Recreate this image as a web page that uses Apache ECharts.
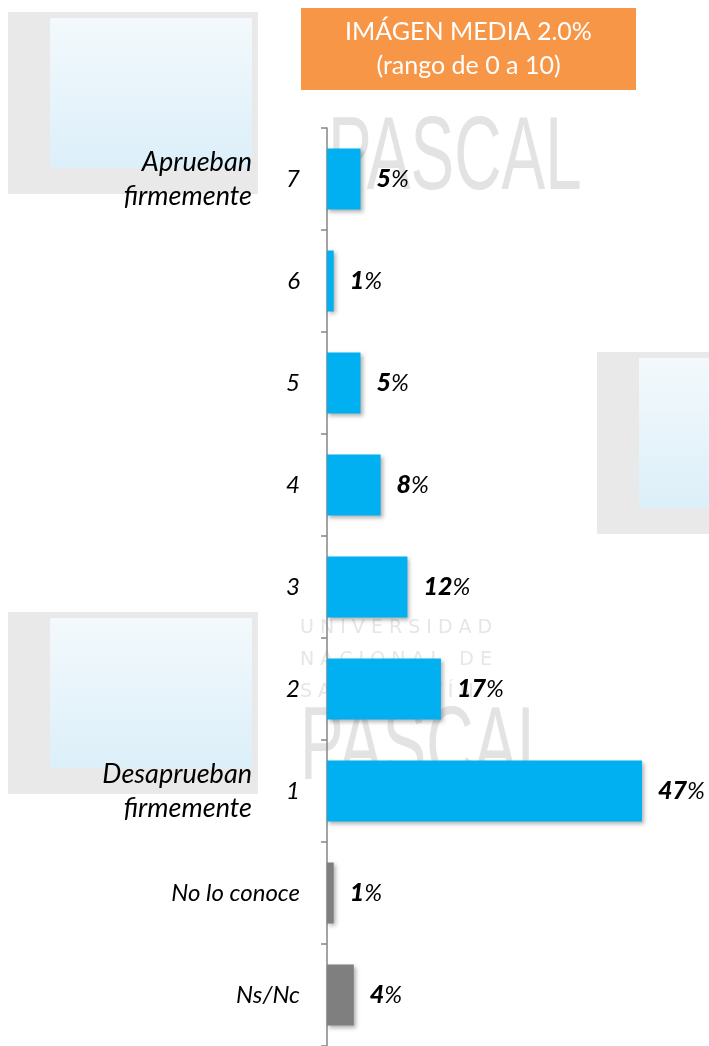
<!DOCTYPE html>
<html>
<head>
<meta charset="utf-8">
<script src="https://cdn.jsdelivr.net/npm/echarts@6/dist/echarts.min.js"></script>
<style>
  html, body { margin: 0; padding: 0; background: #ffffff; }
  #main { width: 709px; height: 1046px; }
</style>
</head>
<body>
<div id="main"></div>
<script>
// categorias de arriba hacia abajo
var categorias = ["7", "6", "5", "4", "3", "2", "1", "No lo conoce", "Ns/Nc"];
var descriptores = ["Aprueban\nfirmemente", "", "", "", "", "", "Desaprueban\nfirmemente", "", ""];
var valores = [5, 1, 5, 8, 12, 17, 47, 1, 4];
var colores = ["#00B0F0", "#00B0F0", "#00B0F0", "#00B0F0", "#00B0F0", "#00B0F0", "#00B0F0", "#7F7F7F", "#7F7F7F"];
var titulo = "IMÁGEN MEDIA 2.0%\n(rango de 0 a 10)";

var fuente = "Lato, 'Open Sans', sans-serif";

// marca de agua (logo de fondo)
function libro(x, y) {
  return {
    type: "group",
    x: x,
    y: y,
    z: -10,
    silent: true,
    children: [
      { type: "rect", shape: { x: 0, y: 0, width: 250, height: 182 }, style: { fill: "#E9E9E9" } },
      {
        type: "rect",
        shape: { x: 42, y: 6, width: 202, height: 150 },
        style: {
          fill: {
            type: "linear", x: 0, y: 0, x2: 0, y2: 1,
            colorStops: [
              { offset: 0, color: "#F3F9FC" },
              { offset: 1, color: "#DCEFF9" },
            ],
          },
        },
      },
    ],
  };
}

function marca(texto, x, y) {
  return {
    type: "text",
    x: x,
    y: y,
    z: -9,
    scaleX: 0.63,
    silent: true,
    style: { text: texto, fill: "#E3E3E3", font: "104px 'Liberation Sans', sans-serif" },
  };
}

var chart = echarts.init(document.getElementById("main"));

chart.setOption({
  backgroundColor: "#ffffff",
  animation: false,
  grid: {
    left: 327,
    top: 128,
    width: 315,
    height: 922,
  },
  xAxis: {
    type: "value",
    min: 0,
    max: 47,
    show: false,
  },
  yAxis: [
    {
      type: "category",
      data: categorias,
      inverse: true,
      axisLine: {
        show: true,
        lineStyle: { color: "#868686", width: 1.5 },
      },
      axisTick: {
        show: true,
        length: 6,
        lineStyle: { color: "#868686", width: 1.5 },
      },
      splitLine: { show: false },
      axisLabel: {
        margin: 27,
        color: "#000000",
        fontFamily: fuente,
        fontStyle: "italic",
        fontSize: 24,
      },
    },
    {
      type: "category",
      data: descriptores,
      inverse: true,
      position: "left",
      axisLine: { show: false },
      axisTick: { show: false },
      splitLine: { show: false },
      axisLabel: {
        margin: 75,
        color: "#000000",
        fontFamily: fuente,
        fontStyle: "italic",
        fontSize: 27,
        lineHeight: 34,
        align: "right",
      },
    },
  ],
  series: [
    {
      type: "bar",
      yAxisIndex: 0,
      barWidth: 61,
      data: valores.map(function (v, i) {
        return { value: v, itemStyle: { color: colores[i] } };
      }),
      itemStyle: {
        shadowBlur: 4,
        shadowColor: "rgba(0,0,0,0.3)",
        shadowOffsetX: 2,
        shadowOffsetY: 2,
      },
      label: {
        show: true,
        position: "right",
        distance: 16,
        formatter: function (p) {
          return "{n|" + p.value + "}{p|%}";
        },
        rich: {
          n: {
            fontFamily: fuente,
            fontStyle: "italic",
            fontWeight: 900,
            fontSize: 25,
            color: "#000000",
          },
          p: {
            fontFamily: fuente,
            fontStyle: "italic",
            fontWeight: "normal",
            fontSize: 24,
            color: "#000000",
          },
        },
      },
    },
  ],
  graphic: [
    libro(8, 12),
    libro(597, 352),
    libro(8, 612),
    marca("PASCAL", 328, 108),
    marca("PASCAL", 300, 698),
    {
      type: "text",
      x: 300,
      y: 612,
      z: -9,
      silent: true,
      style: {
        text: "U N I V E R S I D A D\nN A C I O N A L   D E\nS A N   M A R T Í N",
        fill: "#E6E6E6",
        font: "19px 'DejaVu Sans', sans-serif",
        lineHeight: 32,
      },
    },
    {
      type: "group",
      left: 301,
      top: 8,
      z: 100,
      children: [
        {
          type: "rect",
          shape: { x: 0, y: 0, width: 335, height: 82 },
          style: { fill: "#F79646" },
        },
        {
          type: "text",
          x: 167.5,
          y: 41,
          style: {
            text: titulo,
            fill: "#ffffff",
            font: "25px " + fuente,
            lineHeight: 34,
            align: "center",
            verticalAlign: "middle",
          },
        },
      ],
    },
  ],
});
</script>
</body>
</html>
